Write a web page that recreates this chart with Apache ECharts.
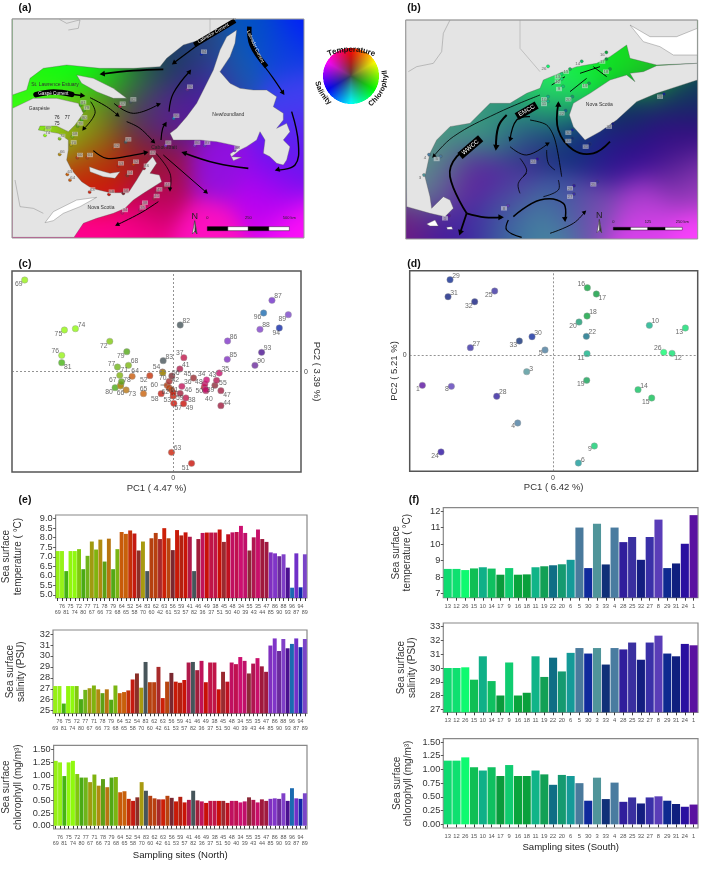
<!DOCTYPE html>
<html><head><meta charset="utf-8">
<style>html,body{margin:0;padding:0;background:#fff}#c{width:709px;height:873px}</style>
<script src="https://cdn.jsdelivr.net/npm/echarts@6/dist/echarts.min.js"></script>
</head><body><div id="c"></div>
<script>
// ---------- DATA ----------
const northSites=[69,76,81,75,74,72,80,77,67,71,66,78,73,79,68,64,65,52,58,54,70,83,60,62,42,63,61,56,53,59,57,41,82,46,36,49,37,38,51,45,50,48,40,34,39,55,43,35,44,47,85,86,90,88,93,96,87,94,89];
const northTemp=[7.3,7.3,6.25,7.3,7.3,7.4,6.35,7.05,7.8,7.38,7.9,6.75,7.95,6.35,7.4,8.3,8.2,8.38,8.22,7.33,7.8,6.25,7.97,8.25,7.93,8.5,7.97,7.35,8.4,8.12,8.28,8.05,6.25,7.93,8.25,8.27,8.27,8.27,8.43,7.78,8.18,8.28,8.3,8.62,8.25,7.33,8.02,8.43,7.93,7.78,7.23,7.18,7.03,7.13,6.43,5.38,7.18,5.4,7.13];
const northSal=[27.25,27.25,25.65,27.25,27.25,27.25,26.05,26.9,27.05,27.3,26.95,26.6,26.95,26.0,27.3,26.6,26.7,26.85,27.85,28.4,27.1,29.45,27.6,27.6,29.0,26.15,27.65,28.45,27.65,27.55,27.8,29.4,29.45,28.7,29.55,27.6,29.4,29.4,26.95,28.55,27.65,29.4,29.25,29.9,29.55,28.4,29.3,29.8,29.05,28.55,30.95,31.6,30.45,31.55,30.7,31.1,31.6,30.8,31.55];
const northChl=[1.28,1.25,0.98,1.25,1.28,1.02,0.95,0.95,0.86,1.01,0.79,0.92,0.76,0.95,0.96,0.66,0.68,0.53,0.49,0.56,0.86,0.69,0.59,0.54,0.52,0.52,0.59,0.55,0.48,0.57,0.46,0.51,0.69,0.5,0.48,0.45,0.49,0.49,0.49,0.49,0.45,0.49,0.49,0.46,0.48,0.56,0.51,0.46,0.52,0.49,0.53,0.54,0.53,0.64,0.49,0.74,0.54,0.53,0.64];
const northPC1=[-4.45,-3.34,-3.34,-3.26,-2.93,-1.9,-1.74,-1.67,-1.57,-1.6,-1.58,-1.55,-1.41,-1.39,-1.34,-1.23,-0.89,-0.7,-0.36,-0.32,-0.31,-0.3,-0.18,-0.12,-0.12,-0.05,-0.05,-0.04,0,0,0.02,0.2,0.21,0.21,0.26,0.31,0.32,0.38,0.55,0.61,0.93,0.95,0.98,1.0,0.97,1.25,1.3,1.38,1.43,1.43,1.62,1.63,2.45,2.6,2.65,2.71,2.96,3.18,3.45];
const northPC2=[2.75,0.49,0.27,1.25,1.29,0.91,-0.48,0.14,-0.39,-0.11,-0.43,-0.3,-0.55,0.6,0.19,-0.14,-0.66,-0.12,-0.66,-0.01,-0.03,0.33,-0.41,-0.49,-0.29,-2.42,-0.54,-0.13,-0.73,-0.63,-0.95,0.08,1.4,-0.65,-0.44,-0.96,0.42,-0.79,-2.75,-0.19,-0.47,-0.37,-0.57,-0.25,-0.54,-0.41,-0.26,-0.04,-1.02,-0.57,0.37,0.92,0.19,1.27,0.58,1.76,2.14,1.31,1.71];
const southSites=[13,12,26,15,10,14,17,9,16,18,11,19,22,20,6,5,30,3,33,4,28,25,32,27,8,29,31,24,1];
const southTemp=[8.5,8.5,8.43,8.53,8.6,8.52,8.15,8.55,8.15,8.17,8.6,8.66,8.72,8.78,9.05,11.0,8.55,11.23,8.77,11.0,10.12,10.43,9.05,10.43,11.48,8.55,8.83,10.02,11.75];
const southSal=[30.0,30.0,30.05,29.15,30.85,29.05,28.0,30.4,28.0,28.2,30.85,29.35,30.75,29.75,31.1,31.45,31.05,31.45,30.25,31.45,31.35,31.85,30.6,31.85,32.35,31.05,30.85,31.75,31.65];
const southChl=[1.16,1.16,1.22,1.04,0.98,1.04,0.88,1.08,0.88,0.88,0.98,0.91,0.72,0.9,0.88,0.75,0.43,0.85,0.46,0.76,0.41,0.49,0.38,0.49,0.51,0.43,0.37,0.32,0.36];
const southPC1=[3.97,3.57,3.32,2.96,2.89,2.55,1.3,1.24,1.03,1.02,1.02,1.01,1.0,0.78,0.76,-0.24,-0.63,-0.79,-1.01,-1.06,-1.69,-1.75,-2.35,-2.48,-3.05,-3.09,-3.15,-3.36,-3.92];
const southPC2=[0.82,0.06,0.09,-1.28,0.9,-1.03,1.84,-2.72,2.03,1.18,0.05,-0.75,0.57,1.0,-3.23,0.16,0.56,-0.49,0.43,-2.03,-1.23,1.93,1.61,0.23,-0.93,2.27,1.76,-2.9,-0.9];
const scoreTick=[0];
const tempTicksN=[5,5.5,6,6.5,7,7.5,8,8.5,9], salTicksN=[25,26,27,28,29,30,31,32], chlTicks=[0,0.25,0.5,0.75,1,1.25,1.5];
const tempTicksS=[7,8,9,10,11,12], salTicksS=[27,28,29,30,31,32,33];

// ---------- STYLES (colours, label nudges, panel boxes) ----------
const siteColor={69:'#96f015',76:'#96f218',81:'#45b313',75:'#92f60f',74:'#8ff90f',72:'#80c80f',80:'#4aaa15',77:'#6fb51a',67:'#a09a10',71:'#80b30f',66:'#b08a10',78:'#5da015',73:'#b87410',79:'#52a815',68:'#7bb512',64:'#c85a0a',65:'#c8600a',52:'#c43008',58:'#c41a10',54:'#8b2f28',70:'#a89a10',83:'#48555a',60:'#b54010',62:'#b84010',42:'#a82a2a',63:'#cc2008',61:'#b84510',56:'#7a2830',53:'#c81a08',59:'#b42010',57:'#c81408',41:'#b01a4a',82:'#45555a',46:'#a01e3a',36:'#c0145a',49:'#c81008',37:'#c01548',38:'#c01548',51:'#c81008',45:'#9a2a30',50:'#c01020',48:'#c01060',40:'#c01050',34:'#cc1070',39:'#c0106a',55:'#8b2a38',43:'#b01550',35:'#c80f6a',44:'#a0183c',47:'#a01a40',85:'#8030c0',86:'#8035c8',90:'#6a2a9c',88:'#8040c8',93:'#4a1090',96:'#1a6ab0',87:'#7030c8',94:'#1028a8',89:'#7a45c8',
13:'#0fdb70',12:'#0fe070',26:'#0ffa70',15:'#0fbf55',10:'#10b088',14:'#0fc060',17:'#0a9a3c',9:'#10cc70',16:'#0aa43c',18:'#0aa03c',11:'#10b488',19:'#12a055',22:'#0f6e85',20:'#159a70',6:'#159a98',5:'#4a7a9c',30:'#0f2a9c',3:'#50959a',33:'#103078',4:'#4a7ca0',28:'#301e9c',25:'#3a30a0',32:'#141e80',27:'#3a30a8',8:'#5a3db8',29:'#0f2a90',31:'#10207f',24:'#2a10a0',1:'#5a12a0'};
const nudge={69:[-6,4.5],76:[-6.5,-4],81:[6,4],75:[-6,4.5],74:[6,-4],72:[-6,4.5],80:[-6,4.5],77:[-6,-2.5],67:[-8,-5],71:[4.5,-5],66:[0,7],78:[5.5,-2],73:[6,4.5],79:[-6,4.5],68:[6,-4],64:[3,-5],65:[0,-5],52:[-6,4.5],58:[-6.5,5],54:[-6,-4.5],70:[0,5],83:[6,-4],60:[-13,0],62:[-4,4],42:[6,-1],63:[6,-4],61:[3,0],56:[4,-3],53:[-6,4],59:[6.5,5],57:[4.5,4.5],41:[6,-4],82:[6,-4],46:[8,-3],36:[6,-4],49:[6,4.5],37:[-4,-5],38:[6,2],51:[-6,4.5],45:[-6,-4],50:[-5,4],48:[-6,-2],40:[3,8],34:[-5,-6],39:[5,0],55:[8,-2],43:[-4,-5],35:[6,-4],44:[6,-3],47:[6,4],85:[6,-4],86:[6,-4],90:[6,-4],88:[6,-4],93:[6,-4],96:[-6,4],87:[6,-4],94:[-3,5],89:[-6,4],
29:[6,-4],31:[6,-4],25:[-6,4.5],32:[-6,4.5],16:[-6,-4],17:[6,4.5],18:[6,-4],20:[-6,4.5],10:[6,-4],13:[-6,4.5],22:[6,-4],30:[6,-4],33:[-6,4.5],27:[6,-4],5:[-4.5,3],26:[-6,-4],12:[6,4.5],11:[-6,4.5],3:[4.5,-3],19:[-6,4],1:[-4.5,3.5],8:[-4.5,3],14:[6,-4],28:[6,-4],15:[-6,4.5],4:[-4.5,3.5],9:[-4.5,3.5],24:[-6,4.5],6:[4.5,-3]};
const FONT='"Liberation Sans",Arial,sans-serif';

// ---------- FIELD IMAGES FOR THE TWO MAPS ----------
function hex(c){return [parseInt(c.slice(1,3),16),parseInt(c.slice(3,5),16),parseInt(c.slice(5,7),16)];}
function fieldImage(w,h,x0,y0,pts,sigma){
  const cv=document.createElement('canvas');cv.width=w;cv.height=h;const g=cv.getContext('2d');const im=g.createImageData(w,h);
  const cols=pts.map(p=>hex(p[2]));
  for(let j=0;j<h;j++)for(let i=0;i<w;i++){
    const zx=x0+i*3,zy=y0+j*3;let s=0,r=0,gg=0,b=0;
    for(let k=0;k<pts.length;k++){const dx=zx-pts[k][0],dy=zy-pts[k][1];const q=Math.exp(-(dx*dx+dy*dy)/(2*sigma*sigma))+1e-7;s+=q;r+=q*cols[k][0];gg+=q*cols[k][1];b+=q*cols[k][2];}
    const o=(j*w+i)*4;im.data[o]=r/s;im.data[o+1]=gg/s;im.data[o+2]=b/s;im.data[o+3]=255;
  }
  g.putImageData(im,0,0);return cv;
}
function wheelImage(R){
  const n=R*4,cv=document.createElement('canvas');cv.width=n;cv.height=n;const g=cv.getContext('2d');const im=g.createImageData(n,n);
  function hue(a){const h=((a%360)+360)%360/60,x=1-Math.abs(h%2-1);const t=[[1,x,0],[x,1,0],[0,1,x],[0,x,1],[x,0,1],[1,0,x]][Math.floor(h)%6];return t;}
  for(let j=0;j<n;j++)for(let i=0;i<n;i++){
    const dx=(i+.5-n/2)/(n/2),dy=(j+.5-n/2)/(n/2),r=Math.hypot(dx,dy),o=(j*n+i)*4;
    if(r>1){continue;}
    const a=Math.atan2(dx,-dy)*180/Math.PI,h=hue(a),m=Math.pow(r,0.75);
    for(let c=0;c<3;c++)im.data[o+c]=(0.27*(1-m)+h[c]*m)*255;
    im.data[o+3]=255;
  }
  g.putImageData(im,0,0);return cv;
}
const fieldA=[[900,60,'#0018ff'],[850,150,'#1040e0'],[780,90,'#0055c0'],[700,200,'#1060b0'],[600,150,'#2a4a80'],[540,180,'#103070'],[620,250,'#5020a0'],[560,300,'#5018a0'],[500,350,'#6018a0'],[880,300,'#4040f0'],[900,420,'#6020f0'],[850,520,'#7010f0'],[650,500,'#9010e0'],[800,600,'#c000f0'],[900,700,'#ff10f8'],[620,700,'#ff10c0'],[400,700,'#ff0090'],[250,700,'#ff0090'],[450,600,'#c00060'],[480,500,'#a01040'],[430,440,'#6a1a40'],[380,480,'#c82000'],[280,540,'#d01000'],[240,490,'#c83010'],[300,440,'#a84010'],[240,420,'#7a8010'],[250,370,'#70b010'],[300,330,'#708020'],[380,350,'#50503a'],[430,330,'#403a60'],[470,330,'#5a2090'],[380,240,'#30a020'],[300,220,'#00ff10'],[200,215,'#10ff10'],[100,260,'#20f010'],[40,300,'#30ff10'],[140,385,'#a0ff18'],[210,385,'#90e018'],[500,200,'#204050'],[440,215,'#206040']];
const fieldB=[[700,270,'#20ff50'],[900,190,'#10e020'],[1030,200,'#20d020'],[800,230,'#10f040'],[730,290,'#30f070'],[600,340,'#30b070'],[470,390,'#40a080'],[380,480,'#50a080'],[350,560,'#60a090'],[540,370,'#3a9a80'],[620,370,'#206088'],[720,340,'#206080'],[750,400,'#103070'],[820,440,'#103080'],[950,350,'#103060'],[1100,290,'#103060'],[1100,400,'#300a80'],[1100,500,'#502090'],[1000,450,'#300a90'],[900,480,'#301090'],[650,430,'#3a2090'],[500,500,'#5a1aa0'],[420,560,'#6a1aa0'],[600,580,'#5040a0'],[700,660,'#4a90a0'],[600,690,'#3a70a0'],[750,600,'#3a50a0'],[850,620,'#7a50b0'],[1000,600,'#b040d0'],[1160,710,'#ff40ff'],[1000,700,'#e040f0'],[1150,560,'#a040c0'],[300,680,'#701a80'],[400,700,'#4018a0'],[500,680,'#4030a0']];

// map geometry is written in 3x crop coordinates and divided down
const A=p=>[p[0]/3,p[1]/3], B=p=>[310+p[0]/3,p[1]/3];
const LAND='#e4e4e4',EDGE='#5a5a5a';
let G=[];
function poly(M,pts,fill,stroke,lw){G.push({type:'polygon',silent:true,shape:{points:pts.map(M)},style:{fill:fill||LAND,stroke:stroke===undefined?EDGE:stroke,lineWidth:lw===undefined?0.35:lw}});}
function line(M,pts,color,lw,smooth,cap){G.push({type:'polyline',silent:true,shape:{points:pts.map(M),smooth:smooth||0},style:{stroke:color,lineWidth:lw,fill:null,lineCap:cap||'butt'}});}
function arrow(M,pts,lw){
  line(M,pts,'#000',lw,pts.length>2?0.4:0);
  const a=M(pts[pts.length-2]),b=M(pts[pts.length-1]),t=Math.atan2(b[1]-a[1],b[0]-a[0]),L=3+lw*1.4,W=1.6+lw*0.8;
  G.push({type:'polygon',silent:true,shape:{points:[[b[0]+Math.cos(t)*L*.4,b[1]+Math.sin(t)*L*.4],[b[0]-Math.cos(t)*L*.6-Math.sin(t)*W,b[1]-Math.sin(t)*L*.6+Math.cos(t)*W],[b[0]-Math.cos(t)*L*.6+Math.sin(t)*W,b[1]-Math.sin(t)*L*.6-Math.cos(t)*W]]},style:{fill:'#000'}});
}
function mtxt(M,p,s,size,color,rot,bold){const q=M(p);G.push({type:'text',silent:true,x:q[0],y:q[1],rotation:(rot||0)*Math.PI/180,style:{text:s,fontSize:size,fontFamily:FONT,fontWeight:bold?'bold':'normal',fill:color||'#222',align:'center',verticalAlign:'middle'}});}
function site(M,s,lp,cp){const c=M(cp),l=M(lp);
  G.push({type:'circle',silent:true,shape:{cx:c[0],cy:c[1],r:1.6},style:{fill:siteColor[s]||'#666',stroke:'#444',lineWidth:0.3}});
  G.push({type:'rect',silent:true,shape:{x:l[0]-3,y:l[1]-2.2,width:6,height:4.4},style:{fill:'rgba(225,225,225,0.55)'}});
  G.push({type:'text',silent:true,x:l[0],y:l[1],style:{text:String(s),fontSize:4.4,fontFamily:FONT,fill:'#666',align:'center',verticalAlign:'middle'}});}
function scaleBar(M,x0,x1,y0,y1,labs,ly,fs){
  const n=4,st=(x1-x0)/n;
  for(let i=0;i<n;i++){const a=M([x0+i*st,y0]),b=M([x0+(i+1)*st,y1]);G.push({type:'rect',silent:true,shape:{x:a[0],y:a[1],width:b[0]-a[0],height:b[1]-a[1]},style:{fill:i%2?'#fff':'#000',stroke:'#000',lineWidth:0.4}});}
  labs.forEach(l=>mtxt(M,[l[0],ly],l[1],fs,'#222'));
}
function northArrow(M,x,y){mtxt(M,[x,y-22],'N',9,'#222');
  const t=[[x,y-10],[x+7,y+30],[x,y+22],[x-7,y+30]];poly(M,t,'#fff','#333',0.5);poly(M,[[x,y-10],[x,y+22],[x+7,y+30]],'#333','#333',0.2);}

// ----- panel (a)
G.push({type:'image',silent:true,x:12,y:19,style:{image:fieldImage(292,219,36,57,fieldA,62),x:0,y:0,width:292,height:219}});
poly(A,[[37,56],[708,56],[640,100],[600,120],[550,135],[500,175],[480,200],[400,205],[300,205],[200,195],[130,205],[90,235],[80,270],[37,285]]);
poly(A,[[230,225],[280,235],[340,265],[380,295],[340,295],[290,275],[245,250]]);
poly(A,[[37,325],[100,295],[170,295],[235,310],[250,340],[225,375],[205,395],[170,378],[120,378],[115,390],[175,400],[205,420],[205,450],[200,480],[215,510],[245,545],[275,565],[330,578],[385,578],[410,540],[440,490],[458,470],[470,490],[450,520],[478,525],[485,545],[430,580],[400,600],[375,625],[340,640],[290,655],[250,670],[222,712],[37,712]]);
poly(A,[[268,500],[295,510],[330,520],[360,515],[345,535],[310,530],[270,515]]);
poly(A,[[510,400],[530,385],[560,350],[590,310],[610,270],[640,210],[660,150],[680,110],[710,90],[705,130],[690,170],[660,215],[690,250],[720,265],[760,270],[800,270],[830,290],[820,320],[850,340],[850,360],[830,385],[860,370],[870,395],[850,420],[870,440],[860,480],[850,495],[830,490],[810,470],[790,460],[795,420],[780,395],[770,420],[740,440],[720,450],[695,470],[725,472],[700,482],[690,462],[720,440],[650,425],[600,420],[520,420]]);
poly(A,[[135,668],[160,635],[230,600],[290,592],[240,620],[190,640],[160,662]],'#fff');
line(A,[[630,56],[630,118]],'#888',0.4);
line(A,[[178,58],[200,70],[230,62],[240,60],[235,85],[205,90]],'#777',0.4);
line(A,[[45,540],[60,620],[100,625],[130,640]],'#777',0.4);
arrow(A,[[490,208],[400,212],[305,222]],1.6);
arrow(A,[[600,130],[520,190]],1.2);
arrow(A,[[790,195],[820,235],[850,280]],1.2);
arrow(A,[[875,335],[895,430],[885,495],[830,510]],1.4);
arrow(A,[[745,505],[650,490],[550,458]],1.6);
arrow(A,[[483,420],[488,385],[497,370]],1.2);
arrow(A,[[507,335],[520,280],[570,213]],1.2);
arrow(A,[[342,310],[400,340],[478,312]],1);
arrow(A,[[270,293],[320,320],[355,347]],1);
arrow(A,[[380,365],[420,385],[462,427]],1);
arrow(A,[[272,305],[285,340],[250,388]],0.9);
arrow(A,[[280,452],[320,475],[375,470],[440,457]],1.2);
arrow(A,[[490,465],[620,578]],1);
arrow(A,[[468,460],[510,520],[510,570]],0.8);
arrow(A,[[475,605],[420,640],[350,675]],1);
line(A,[[108,284],[160,276],[215,283]],'#000',5.5,0.4,'round');
arrow(A,[[215,283],[250,287]],1.5);
line(A,[[583,135],[705,62]],'#000',5,0,'butt');
line(A,[[748,80],[755,135],[800,200]],'#000',4.5,0.4,'butt');
mtxt(A,[160,282],'Gaspé Current',4.6,'#fff',0);
mtxt(A,[640,100],'Labrador Current',4.6,'#fff',30);
mtxt(A,[766,140],'Labrador Current',4.6,'#fff',-65);
mtxt(A,[165,255],'St. Lawrence Estuary',5,'#333');
mtxt(A,[118,326],'Gaspésie',5,'#333');
mtxt(A,[685,344],'Newfoundland',5,'#333');
mtxt(A,[303,622],'Nova Scotia',5,'#333');
mtxt(A,[492,444],'Cabot strait',5,'#222');
[[81,250,307],[79,260,323],[80,253,352],[78,241,370],[69,145,382],[74,143,398],[72,187,408],[68,225,402],[70,221,427],[66,187,455],[65,210,515],[64,218,532],[60,240,465],[61,270,465],[62,350,437],[83,385,418],[82,400,298],[37,368,311],[94,612,155],[90,570,260],[96,529,347],[85,505,428],[86,592,428],[87,622,428],[88,712,443],[47,458,458],[52,408,485],[53,363,490],[54,390,518],[63,277,568],[58,335,575],[56,378,572],[44,502,553],[43,478,568],[41,470,588],[38,435,608],[35,428,622],[34,375,630],[46,440,497]].forEach(s=>site(A,s[0],[s[1],s[2]],[s[1]-8,s[2]+8]));
mtxt(A,[171,352],'76',4.6,'#222');mtxt(A,[202,352],'77',4.6,'#222');mtxt(A,[171,370],'75',4.6,'#222');
northArrow(A,584,672);
scaleBar(A,622,868,680,692,[[622,'0'],[745,'250'],[868,'500 km']],655,4);
G.push({type:'rect',silent:true,shape:{x:12,y:19,width:292,height:219},style:{fill:null,stroke:'#999',lineWidth:1}});

// ----- panel (b)
G.push({type:'image',silent:true,x:405.7,y:20,style:{image:fieldImage(292,219,287,60,fieldB,62),x:0,y:0,width:292,height:219}});
poly(B,[[287,60],[1162,60],[1162,190],[1040,195],[960,175],[950,135],[900,170],[860,190],[800,200],[760,215],[700,240],[690,265],[650,280],[600,310],[540,310],[510,340],[480,370],[420,380],[380,420],[360,460],[345,530],[360,590],[365,625],[400,590],[420,600],[430,625],[405,650],[360,640],[290,620]]);
poly(B,[[1040,197],[1162,190],[1162,240],[1100,260],[1040,280],[980,305],[920,360],[870,395],[825,420],[790,380],[778,345],[790,310],[840,280],[900,240],[950,225],[975,245],[960,220],[1000,215]]);
poly(B,[[960,75],[1020,110],[1100,110],[1162,85],[1162,165],[1090,165],[1050,140],[1000,125]],'#fff');
poly(B,[[350,672],[375,660],[385,678],[360,678]],'#fff');poly(B,[[410,682],[425,680],[428,688],[412,688]],'#fff');
line(B,[[630,60],[630,145],[690,215]],'#888',0.4);
line(B,[[420,60],[400,100],[395,155],[370,190],[320,200],[295,215]],'#777',0.4);
arrow(B,[[690,285],[560,340],[430,410],[370,470]],0.8);
arrow(B,[[590,345],[565,380],[558,445]],2);
arrow(B,[[660,350],[620,360],[600,420]],1.2);
arrow(B,[[600,440],[650,465],[715,430]],0.9);
line(B,[[660,360],[710,375],[735,420],[755,530]],'#000',0.9,0.3);
arrow(B,[[900,425],[850,460],[790,450],[745,390],[745,310]],1.8);
line(B,[[510,425],[440,470],[420,530],[470,640]],'#000',1.8,0.4);
arrow(B,[[470,640],[525,652],[575,652]],1.8);
arrow(B,[[470,640],[450,700]],1.8);
arrow(B,[[610,650],[690,600],[760,610],[765,660]],1.5);
line(B,[[595,660],[590,690],[635,712]],'#000',1.2,0.4);
arrow(B,[[720,700],[790,670],[825,635]],0.9);
line(B,[[710,450],[715,490],[735,510]],'#000',0.8,0.4);
line(B,[[630,580],[625,550],[650,520]],'#000',0.8,0.4);
line(B,[[745,540],[745,570],[700,590]],'#000',0.8,0.4);
line(B,[[630,475],[650,510],[640,530]],'#000',0.8,0.4);
line(B,[[725,255],[765,230]],'#000',0.9);line(B,[[780,275],[830,235]],'#000',0.9);line(B,[[810,220],[870,200]],'#000',0.9);line(B,[[850,200],[890,230]],'#000',0.9);
line(B,[[620,350],[680,315]],'#000',8,0,'butt');
line(B,[[450,468],[512,415]],'#000',8,0,'butt');
mtxt(B,[650,332],'EMCC',6,'#fff',30);mtxt(B,[481,442],'WWCC',6,'#fff',40);
mtxt(B,[868,314],'Nova Scotia',5,'#333');
[[16,877,165],[17,877,185],[18,888,215],[14,803,192],[15,768,215],[13,743,230],[12,743,245],[9,747,267],[26,702,207],[10,702,298],[11,702,312],[19,825,258],[20,775,298],[22,755,340],[30,775,398],[33,775,423],[31,827,440],[32,897,380],[29,1050,290],[25,850,553],[24,670,485],[28,780,565],[27,780,590],[5,380,477],[8,582,625],[1,405,655],[4,345,472],[3,330,533]].forEach(s=>site(B,s[0],[s[1],s[2]],[s[1]+12,s[2]-8]));
northArrow(B,868,668);
scaleBar(B,910,1117,682,690,[[910,'0'],[1014,'125'],[1117,'250 km']],665,4);
G.push({type:'rect',silent:true,shape:{x:405.7,y:20,width:292,height:219},style:{fill:null,stroke:'#999',lineWidth:1}});

// ----- colour wheel
const WX=351,WY=76,WR=28;
G.push({type:'image',silent:true,x:WX-WR,y:WY-WR,style:{image:wheelImage(WR),x:0,y:0,width:WR*2,height:WR*2}});
const measure=document.createElement('canvas').getContext('2d');
// letters follow an arc around (cx,cy); mid is the arc's middle, clockwise from north
function arcText(s,cx,cy,R,mid,size,inward){
  measure.font='bold '+size+'px '+FONT;
  const total=measure.measureText(s).width,dir=inward?-1:1;let run=0;
  for(const ch of s){const w=measure.measureText(ch).width,along=run+w/2-total/2,th=mid*Math.PI/180+dir*along/R,x=cx+R*Math.sin(th),y=cy-R*Math.cos(th),rot=inward?th+Math.PI:th;
    G.push({type:'text',silent:true,x,y,rotation:-rot,style:{text:ch,fontSize:size,fontWeight:'bold',fontFamily:FONT,fill:'#111',align:'center',verticalAlign:'middle'}});run+=w;}
}
arcText('Temperature',WX,109.5,60,0,8,false);
arcText('Chlorophyll',WX,WY,34,114,7.2,true);
arcText('Salinity',WX,WY,34,239,7.4,true);

// panel letters
[['(a)',25,8],['(b)',414,8],['(c)',25,264.5],['(d)',414,264.5],['(e)',25,500],['(f)',414,500]].forEach(t=>{G.push({type:'text',silent:true,x:t[1],y:t[2],style:{text:t[0],fontSize:10.5,fontWeight:'bold',fontFamily:FONT,fill:'#111',align:'center',verticalAlign:'middle'}});});
G.push({type:'line',silent:true,shape:{x1:160.5,y1:385,x2:167,y2:385},style:{stroke:'#333',lineWidth:0.6}});

// ---------- CHART ----------
const grids=[],xAxes=[],yAxes=[],series=[];
function addScatter(box,sites,pc1,pc2,xr,yr,xName,yName,yPos,yRot,yGap){
  const g=grids.length;
  grids.push({left:box[0],top:box[1],width:box[2],height:box[3],show:true,borderColor:'#555',borderWidth:1.5,backgroundColor:'transparent'});
  xAxes.push({gridIndex:g,type:'value',min:xr[0],max:xr[1],position:'bottom',name:xName,nameLocation:'middle',nameGap:8,nameTextStyle:{fontSize:9.5,color:'#333',fontFamily:FONT},axisLine:{show:false},axisTick:{show:false},splitLine:{show:false},axisLabel:{customValues:scoreTick,fontSize:7,color:'#444',margin:3,fontFamily:FONT}});
  yAxes.push({gridIndex:g,type:'value',min:yr[0],max:yr[1],position:yPos,name:yName,nameLocation:'middle',nameRotate:yRot,nameGap:yGap,nameTextStyle:{fontSize:9.5,color:'#333',fontFamily:FONT},axisLine:{show:false},axisTick:{show:false},splitLine:{show:false},axisLabel:{customValues:scoreTick,fontSize:7,color:'#444',margin:3,fontFamily:FONT}});
  series.push({type:'scatter',xAxisIndex:g,yAxisIndex:g,symbolSize:6.4,silent:true,
    data:sites.map((s,i)=>({name:String(s),value:[pc1[i],pc2[i]],itemStyle:{color:siteColor[s],borderColor:'#999',borderWidth:0.5},label:{show:true,position:'inside',offset:nudge[s],formatter:'{b}',fontSize:6.8,color:'#444',fontFamily:FONT}})),
    markLine:{silent:true,symbol:'none',label:{show:false},lineStyle:{color:'#777',type:[2,2],width:0.8},data:[{xAxis:0},{yAxis:0}],animation:false}});
}
function addBars(box,sites,vals,yr,ticks,dec,name,gap,xName,twoRow,lblSize){
  const g=grids.length;
  grids.push({left:box[0],top:box[1],width:box[2],height:box[3],show:true,borderColor:'#888',borderWidth:1.2,backgroundColor:'transparent'});
  xAxes.push({gridIndex:g,type:'category',data:sites.map(String),position:'bottom',axisLine:{show:false},
    axisTick:{show:true,alignWithLabel:true,length:3,lineStyle:{color:'#222',width:0.9},interval:0},
    axisLabel:{interval:0,hideOverlap:false,fontSize:lblSize,lineHeight:twoRow?6.6:7,margin:5,color:'#555',fontFamily:FONT,formatter:(v,i)=>twoRow&&i%2===0?'\n'+v:v},
    name:xName||'',nameLocation:'middle',nameGap:xName?(twoRow?21:14):0,nameTextStyle:{fontSize:9.6,color:'#222',fontFamily:FONT}});
  yAxes.push({gridIndex:g,type:'value',min:yr[0],max:yr[1],axisLine:{show:false},splitLine:{show:false},
    axisTick:{show:true,length:2.5,lineStyle:{color:'#333',width:0.8},customValues:ticks},
    axisLabel:{customValues:ticks,fontSize:9.2,color:'#333',margin:3,fontFamily:FONT,formatter:v=>v.toFixed(dec)},
    name,nameLocation:'middle',nameRotate:90,nameGap:gap,nameTextStyle:{fontSize:10,lineHeight:11.3,color:'#333',fontFamily:FONT,align:'center'}});
  series.push({type:'bar',xAxisIndex:g,yAxisIndex:g,barCategoryGap:'8%',silent:true,data:vals.map((v,i)=>({value:v,itemStyle:{color:siteColor[sites[i]]}}))});
}
addScatter([12,271,289,201],northSites,northPC1,northPC2,[-4.83,3.83],[-3.01,3.02],'PC1 ( 4.47 %)','PC2 ( 3.39 %)','right',-90,1);
addScatter([409.7,270.7,288,200.6],southSites,southPC1,southPC2,[-4.30,4.34],[-3.48,2.54],'PC1 ( 6.42 %)','PC2 ( 5.21 %)','left',90,3);
const eBox=(t,h)=>[53,t,254,h], fBox=(t,h)=>[443.3,t,254.7,h];
addBars(eBox(515,83),northSites,northTemp,[4.84,9.19],tempTicksN,1,'Sea surface\ntemperature ( °C)',32,'',true,5.4);
addBars(eBox(630,83.3),northSites,northSal,[24.76,32.37],salTicksN,0,'Sea surface\nsalinity (PSU)',26,'',true,5.4);
addBars(eBox(745.3,83.7),northSites,northChl,[-0.065,1.587],chlTicks,2,'Sea surface\nchlorophyll (mg/m³)',30,'Sampling sites (North)',true,5.4);
addBars(fBox(507.7,90),southSites,southTemp,[6.76,12.2],tempTicksS,0,'Sea surface\ntemperature ( °C)',30,'',false,5.8);
addBars(fBox(623,89.3),southSites,southSal,[26.78,33.27],salTicksS,0,'Sea surface\nsalinity (PSU)',25,'',false,5.8);
addBars(fBox(738.7,89.3),southSites,southChl,[-0.067,1.56],chlTicks,2,'Sea surface\nchlorophyll (mg/m³)',29,'Sampling sites (South)',false,5.8);

const chart=echarts.init(document.getElementById('c'),null,{renderer:'canvas',width:709,height:873});
chart.setOption({animation:false,backgroundColor:'#fff',textStyle:{fontFamily:FONT},grid:grids,xAxis:xAxes,yAxis:yAxes,series,graphic:{elements:G}});
</script></body></html>
